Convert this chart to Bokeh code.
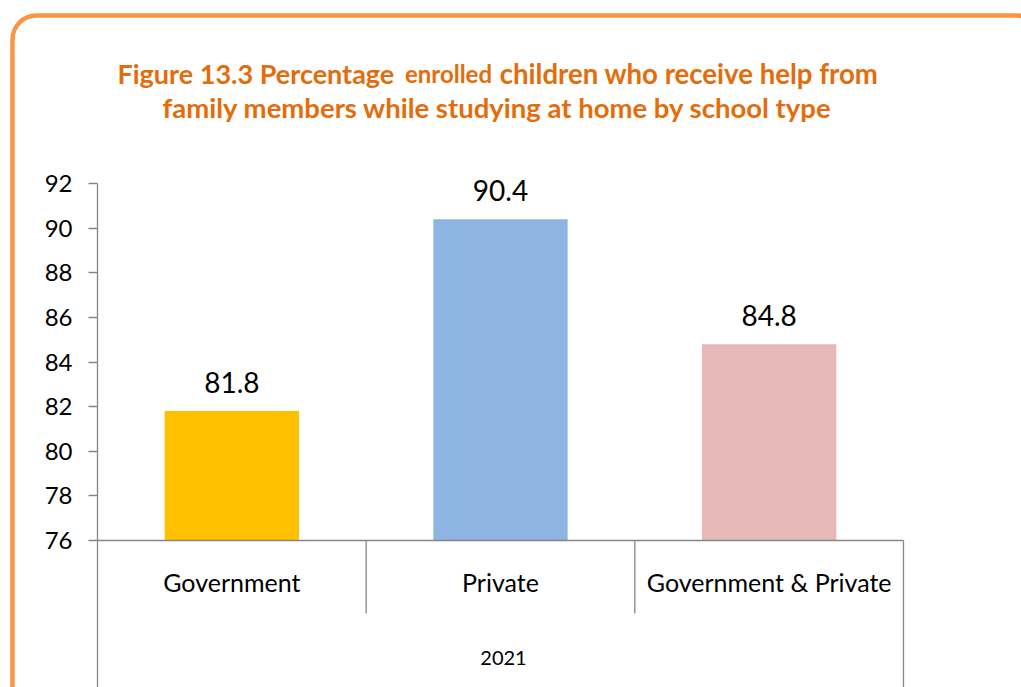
from bokeh.plotting import figure
from bokeh.models import FactorRange, Range1d, FixedTicker, ColumnDataSource
from bokeh.core.properties import value
from bokeh.embed import file_html
from bokeh.resources import INLINE

# ---- data -------------------------------------------------------------
categories = ["Government", "Private", "Government & Private"]
shares = [81.8, 90.4, 84.8]
bar_colors = ["#FFC000", "#8EB4E3", "#E6B9B8"]
year_label = "2021"
y_ticks = [76, 78, 80, 82, 84, 86, 88, 90, 92]
y_min, y_max = 76, 92
title_parts = ["Figure 13.3 Percentage", "enrolled", "children who receive help from"]
title_line2 = "family members while studying at home by school type"

FONT = "Lato"
AXIS_GREY = "#868686"
TITLE_ORANGE = "#E46C0A"
FRAME_ORANGE = "#F79646"

W, H = 1021, 687
LEFT, RIGHT, TOP, BOTTOM = 97, 118, 183, 147

p = figure(width=W, height=H, title=None,
           x_range=FactorRange(*categories), y_range=Range1d(y_min, y_max),
           output_backend="svg", toolbar_location=None,
           min_border_left=LEFT, min_border_right=RIGHT,
           min_border_top=TOP, min_border_bottom=BOTTOM)
p.outline_line_color = None
p.grid.visible = False
p.background_fill_color = "white"
p.border_fill_color = "white"

# value axis
yax = p.yaxis[0]
yax.ticker = FixedTicker(ticks=y_ticks)
yax.axis_line_color = AXIS_GREY
yax.axis_line_width = 1.3
yax.major_tick_line_color = AXIS_GREY
yax.major_tick_line_width = 1.3
yax.major_tick_out = 9
yax.major_tick_in = 0
yax.minor_tick_line_color = None
yax.major_label_text_font = FONT
yax.major_label_text_font_size = "24px"
yax.major_label_text_color = "#000000"
yax.major_label_standoff = 16

# category axis
xax = p.xaxis[0]
xax.axis_line_color = AXIS_GREY
xax.axis_line_width = 1.3
xax.major_tick_line_color = None
xax.minor_tick_line_color = None
xax.major_label_text_font = FONT
xax.major_label_text_font_size = "25px"
xax.major_label_text_color = "#000000"
xax.major_label_standoff = 20

src = ColumnDataSource(dict(cat=categories, val=shares, color=bar_colors,
                            label=[f"{v:.1f}" for v in shares]))
p.vbar(x="cat", top="val", bottom=y_min, width=0.5, fill_color="color",
       line_color=None, source=src)
p.text(x="cat", y="val", text="label", source=src, text_align="center",
       text_baseline="alphabetic", y_offset=-29, text_font=value(FONT),
       text_font_size="28px", text_color="#000000", level="overlay")

# helpers turning page pixels into plot coordinates for the decorations
n = len(categories)
px_per_x = (W - LEFT - RIGHT) / n
units_per_px = (y_max - y_min) / (H - TOP - BOTTOM)


def cx(px):
    return (px - LEFT) / px_per_x


def cy(py):
    return y_max - (py - TOP) * units_per_px


# category separators and outer edges below the axis
inner = list(range(1, n))
outer = [0, n]
p.segment(x0=inner, x1=inner, y0=[y_min] * len(inner), y1=[cy(613)] * len(inner),
          line_color=AXIS_GREY, line_width=1.3, level="overlay")
p.segment(x0=outer, x1=outer, y0=[y_min] * 2, y1=[cy(700)] * 2,
          line_color=AXIS_GREY, line_width=1.3, level="overlay")

# group label under the categories
p.text(x=[cx(503)], y=[cy(657)], text=[year_label], text_align="center",
       text_baseline="middle", text_font=value(FONT), text_font_size="20px",
       text_color="#000000", level="overlay")

# title, with the smaller word in the first line
title_style = dict(text_baseline="middle", text_font=value(FONT),
                   text_font_style="bold", text_color=TITLE_ORANGE, level="overlay")
p.text(x=[cx(117)], y=[cy(73)], text=[title_parts[0]], text_align="left",
       text_font_size="27px", **title_style)
p.text(x=[cx(448)], y=[cy(73)], text=[title_parts[1]], text_align="center",
       text_font_size="24px", **title_style)
p.text(x=[cx(878)], y=[cy(73)], text=[title_parts[2]], text_align="right",
       text_font_size="27.6px", **title_style)
p.text(x=[cx(497)], y=[cy(107)], text=[title_line2], text_align="center",
       text_font_size="27.5px", **title_style)

# rounded orange panel border
p.quad(left=[cx(12)], right=[cx(1040)], top=[cy(15)], bottom=[cy(720)],
       border_radius=24, fill_color=None, line_color=FRAME_ORANGE, line_width=4.5,
       level="overlay")

open("out.html", "w").write(file_html(p, INLINE))
